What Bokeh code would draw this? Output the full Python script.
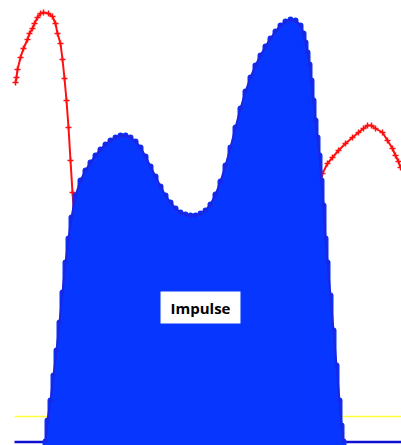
from bokeh.plotting import figure
from bokeh.models import Range1d, Label, ColumnDataSource
from bokeh.embed import file_html
from bokeh.resources import INLINE

# Sample positions and amplitudes of the impulse response (blue)
impulse_t = [45, 47, 50, 53, 56, 59, 62, 65, 68, 71, 75, 80, 85, 90, 95, 100, 105, 110,
             115, 120, 125, 130, 135, 140, 145, 150, 155, 160, 165, 170, 175, 180, 185,
             190, 195, 200, 205, 210, 215, 220, 225, 230, 235, 240, 245, 250, 255, 260,
             265, 270, 275, 280, 285, 290, 295, 300, 303, 305, 307, 309, 311, 313, 315,
             317, 319, 321, 323, 325, 327, 330, 333, 336, 339, 341, 343]
impulse_amp = [4, 25, 45, 70, 95, 123, 153, 183, 207, 228, 250, 265, 275, 283, 290, 296,
               301, 305, 308, 310, 310, 308, 304, 298, 289, 279, 269, 259, 250, 243, 237,
               233, 231, 230, 230, 232, 235, 241, 251, 264, 280, 298, 318, 337, 354, 368,
               380, 390, 399, 407, 414, 420, 424, 426, 425, 420, 412, 403, 393, 381, 365,
               345, 325, 308, 290, 265, 240, 207, 183, 150, 115, 80, 45, 20, 4]

# Reference response (red)
ref_t = [15, 16, 17, 20, 23, 27, 29, 32, 34, 37, 40, 43, 48, 52, 55, 57, 60, 62, 64, 66,
         68, 70, 72, 74, 77, 80, 84, 88, 120, 160, 200, 240, 280, 300, 305, 310, 315, 319,
         322, 327, 332, 338, 345, 352, 358, 363, 367, 371, 375, 382, 387, 392, 395, 398, 400]
ref_amp = [363, 368, 376, 388, 397, 406, 412, 417, 422, 428, 432, 433, 432, 429, 422, 412,
           402, 386, 367, 345, 318, 285, 253, 225, 185, 125, 45, 4, 4, 4, 4, 4, 4, 4, 45,
           145, 225, 260, 272, 282, 288, 295, 302, 308, 313, 317, 320, 320, 317, 313, 305,
           297, 290, 284, 278]

# Horizontal reference levels
t_span = [14, 401]
baseline_level = 3.5
threshold_level = 29

BLUE = "#0736ff"
BLUE_EDGE = "#1c25e0"
RED = "#ff1010"

p = figure(width=401, height=445, output_backend="svg", toolbar_location=None,
           x_range=Range1d(0, 401), y_range=Range1d(0, 445), min_border=0)
p.axis.visible = False
p.grid.visible = False
p.outline_line_color = None
p.background_fill_color = "white"
p.border_fill_color = "white"

# threshold and baseline
p.line(t_span, [threshold_level] * 2, line_color="#ffff3a", line_width=1.5)
p.line(t_span, [baseline_level] * 2, line_color="#1010d0", line_width=2.5)

# reference curve
ref = ColumnDataSource(dict(t=ref_t, a=ref_amp))
p.line("t", "a", source=ref, line_color=RED, line_width=2)
p.scatter("t", "a", source=ref, marker="cross", size=6, line_color=RED, line_width=1.5)

# impulse response: filled impulses with an outline
imp = ColumnDataSource(dict(t=impulse_t, a=impulse_amp, b=[0] * len(impulse_t)))
p.varea(x="t", y1="b", y2="a", source=imp, fill_color=BLUE)
p.segment(x0="t", y0="b", x1="t", y1="a", source=imp, line_color=BLUE, line_width=6,
          line_cap="round")
p.line("t", "a", source=imp, line_color=BLUE_EDGE, line_width=2)
p.scatter("t", "a", source=imp, marker="cross", size=5, line_color=BLUE_EDGE, line_width=1.5)

label = Label(x=200, y=138, text="Impulse", text_align="center", text_baseline="middle",
              text_font="Open Sans", text_font_style="bold", text_font_size="15px",
              text_color="black", background_fill_color="white", padding=(10, 6))
p.add_layout(label)

open("out.html", "w").write(file_html(p, INLINE))
